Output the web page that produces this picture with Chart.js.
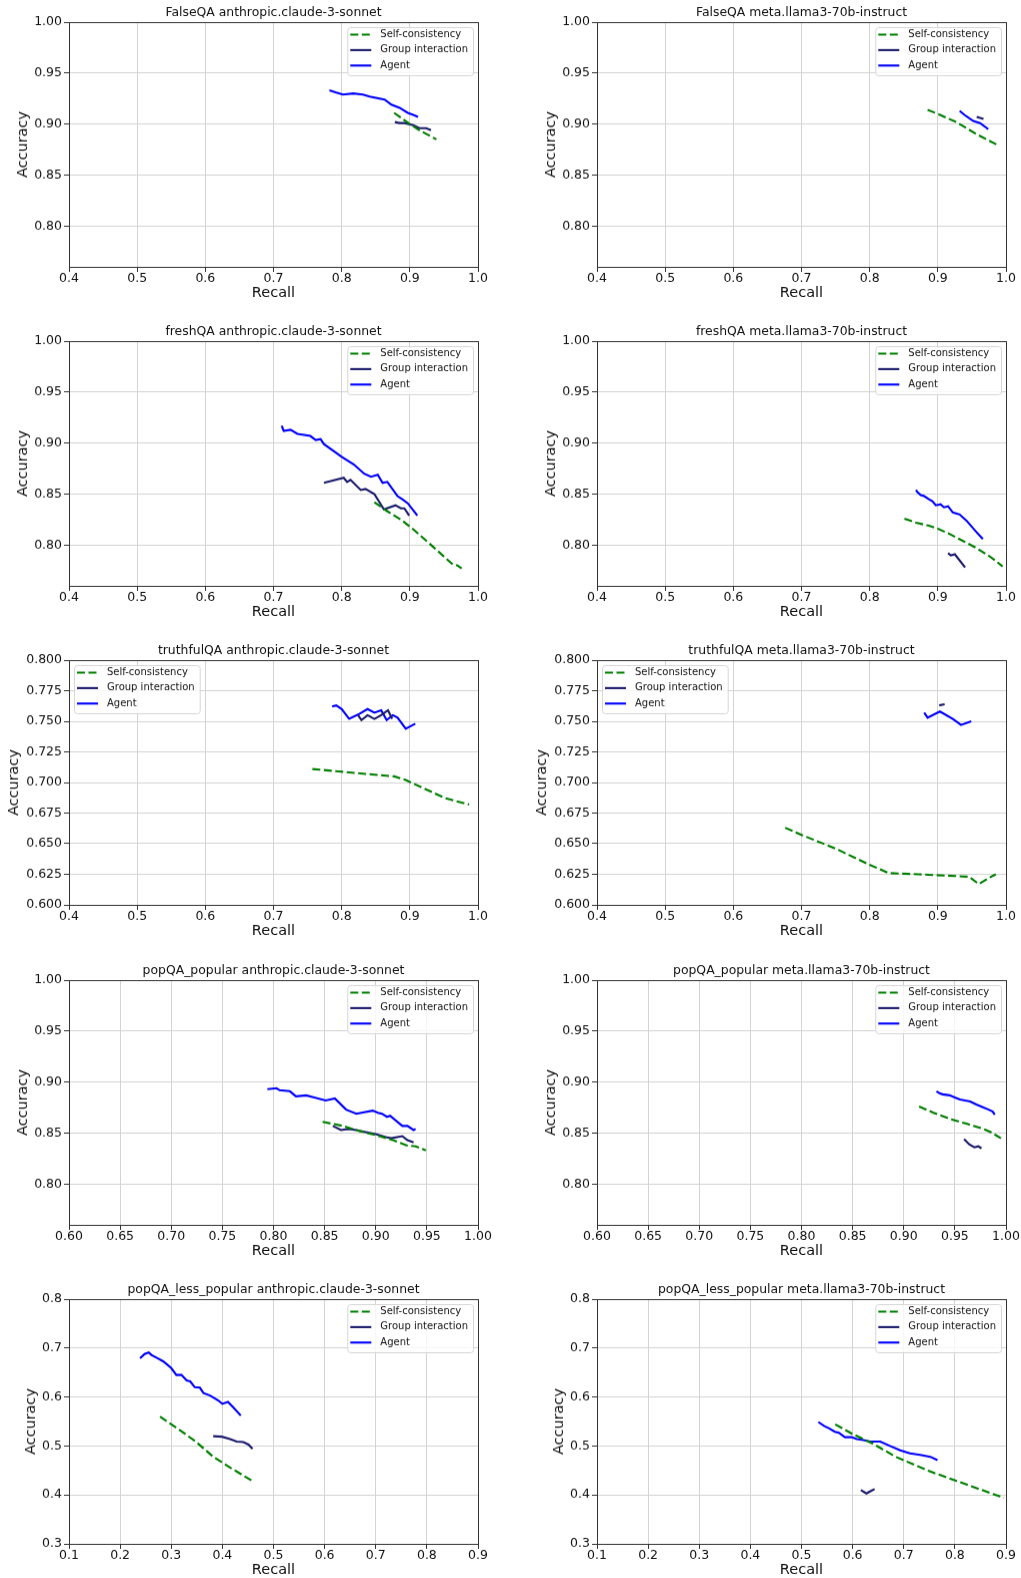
<!DOCTYPE html>
<html>
<head>
<meta charset="utf-8">
<script src="https://cdn.jsdelivr.net/npm/chart.js@4.4.1/dist/chart.umd.min.js"></script>
<style>
  body { margin: 0; background: #fff; }
  #wrap { position: relative; width: 1021px; height: 1578px; overflow: hidden; background: #fff; }
  #wrap canvas { position: absolute; }
</style>
</head>
<body>
<div id="wrap"></div>
<script>
// ---- data (recall, accuracy) ----
const falseqaClaudeSelf = [[0.877,0.911],[0.900,0.900],[0.914,0.894],[0.939,0.885]];
const falseqaClaudeGroup = [[0.878,0.902],[0.885,0.901],[0.892,0.901],[0.905,0.899],[0.914,0.896],[0.924,0.896],[0.931,0.894]];
const falseqaClaudeAgent = [[0.782,0.933],[0.792,0.931],[0.802,0.929],[0.817,0.930],[0.831,0.929],[0.841,0.927],[0.863,0.924],[0.873,0.919],[0.885,0.916],[0.897,0.911],[0.905,0.909],[0.912,0.907]];

const falseqaLlamaSelf = [[0.885,0.914],[0.900,0.910],[0.927,0.902],[0.957,0.890],[0.986,0.880]];
const falseqaLlamaGroup = [[0.957,0.907],[0.967,0.905]];
const falseqaLlamaAgent = [[0.932,0.913],[0.939,0.909],[0.952,0.903],[0.962,0.901],[0.974,0.895]];

const freshqaClaudeSelf = [[0.848,0.842],[0.865,0.834],[0.889,0.824],[0.904,0.816],[0.933,0.799],[0.963,0.781],[0.970,0.780],[0.976,0.777]];
const freshqaClaudeGroup = [[0.774,0.861],[0.803,0.866],[0.808,0.862],[0.813,0.864],[0.828,0.854],[0.835,0.855],[0.848,0.850],[0.862,0.835],[0.879,0.839],[0.887,0.836],[0.892,0.836],[0.899,0.829]];
const freshqaClaudeAgent = [[0.712,0.917],[0.715,0.912],[0.725,0.913],[0.735,0.909],[0.754,0.907],[0.762,0.903],[0.769,0.904],[0.774,0.899],[0.799,0.887],[0.818,0.879],[0.833,0.870],[0.843,0.867],[0.853,0.869],[0.860,0.861],[0.867,0.862],[0.882,0.848],[0.889,0.845],[0.897,0.841],[0.911,0.829]];

const freshqaLlamaSelf = [[0.851,0.826],[0.868,0.822],[0.887,0.819],[0.900,0.816],[0.917,0.811],[0.937,0.804],[0.957,0.797],[0.976,0.789],[0.986,0.784],[0.995,0.779]];
const freshqaLlamaGroup = [[0.915,0.792],[0.919,0.790],[0.925,0.791],[0.940,0.778]];
const freshqaLlamaAgent = [[0.868,0.854],[0.870,0.852],[0.875,0.849],[0.880,0.848],[0.887,0.845],[0.892,0.843],[0.897,0.839],[0.904,0.840],[0.909,0.837],[0.915,0.838],[0.922,0.832],[0.932,0.830],[0.942,0.824],[0.955,0.814],[0.966,0.806]];

const truthfulClaudeSelf = [[0.757,0.711],[0.796,0.709],[0.835,0.707],[0.877,0.705],[0.894,0.702],[0.933,0.692],[0.953,0.687],[0.987,0.682]];
const truthfulClaudeGroup = [[0.824,0.755],[0.829,0.751],[0.838,0.755],[0.848,0.752],[0.858,0.755],[0.868,0.759],[0.874,0.752]];
const truthfulClaudeAgent = [[0.786,0.762],[0.792,0.763],[0.800,0.760],[0.811,0.752],[0.826,0.756],[0.838,0.760],[0.848,0.757],[0.858,0.759],[0.866,0.751],[0.875,0.755],[0.882,0.753],[0.894,0.744],[0.908,0.748]];

const truthfulLlamaSelf = [[0.676,0.663],[0.701,0.657],[0.750,0.646],[0.799,0.633],[0.828,0.626],[0.872,0.625],[0.946,0.623],[0.960,0.617],[0.975,0.622],[0.985,0.625]];
const truthfulLlamaGroup = [[0.902,0.763],[0.910,0.764]];
const truthfulLlamaAgent = [[0.880,0.757],[0.885,0.753],[0.903,0.758],[0.922,0.752],[0.934,0.747],[0.949,0.750]];

const popularClaudeSelf = [[0.848,0.861],[0.868,0.857],[0.884,0.852],[0.900,0.848],[0.917,0.843],[0.930,0.838],[0.939,0.837],[0.949,0.833]];
const popularClaudeGroup = [[0.858,0.857],[0.866,0.853],[0.873,0.854],[0.881,0.853],[0.890,0.851],[0.900,0.849],[0.910,0.846],[0.915,0.845],[0.926,0.847],[0.931,0.843],[0.937,0.841]];
const popularClaudeAgent = [[0.794,0.893],[0.803,0.894],[0.806,0.892],[0.816,0.891],[0.822,0.886],[0.832,0.887],[0.840,0.885],[0.851,0.882],[0.860,0.884],[0.871,0.873],[0.881,0.869],[0.897,0.872],[0.902,0.870],[0.906,0.869],[0.911,0.866],[0.914,0.867],[0.926,0.857],[0.931,0.857],[0.937,0.853],[0.939,0.854]];

const popularLlamaSelf = [[0.915,0.876],[0.929,0.870],[0.945,0.864],[0.962,0.859],[0.978,0.854],[0.985,0.851],[0.995,0.845]];
const popularLlamaGroup = [[0.959,0.844],[0.964,0.839],[0.969,0.836],[0.973,0.837],[0.976,0.835]];
const popularLlamaAgent = [[0.932,0.891],[0.935,0.889],[0.938,0.888],[0.945,0.887],[0.950,0.885],[0.955,0.883],[0.960,0.882],[0.965,0.881],[0.971,0.878],[0.978,0.875],[0.983,0.873],[0.987,0.871],[0.989,0.868]];

const lessClaudeSelf = [[0.278,0.560],[0.316,0.533],[0.349,0.508],[0.382,0.478],[0.415,0.456],[0.461,0.427]];
const lessClaudeGroup = [[0.382,0.520],[0.399,0.519],[0.415,0.514],[0.428,0.509],[0.441,0.508],[0.451,0.503],[0.459,0.494]];
const lessClaudeAgent = [[0.239,0.679],[0.248,0.688],[0.256,0.691],[0.261,0.686],[0.274,0.679],[0.284,0.673],[0.290,0.668],[0.300,0.659],[0.310,0.645],[0.320,0.645],[0.330,0.634],[0.337,0.632],[0.346,0.620],[0.356,0.619],[0.363,0.608],[0.376,0.603],[0.392,0.593],[0.400,0.586],[0.411,0.590],[0.421,0.579],[0.436,0.562]];

const lessLlamaSelf = [[0.566,0.544],[0.599,0.525],[0.639,0.505],[0.684,0.478],[0.749,0.449],[0.802,0.429],[0.896,0.394]];
const lessLlamaGroup = [[0.616,0.410],[0.627,0.403],[0.634,0.407],[0.643,0.412]];
const lessLlamaAgent = [[0.533,0.549],[0.544,0.541],[0.554,0.536],[0.565,0.529],[0.573,0.527],[0.585,0.518],[0.598,0.518],[0.608,0.514],[0.621,0.512],[0.634,0.509],[0.654,0.509],[0.673,0.500],[0.693,0.491],[0.712,0.485],[0.732,0.482],[0.752,0.478],[0.766,0.471]];

// ---- tick labels ----
const recallTicks = [0.4, 0.5, 0.6, 0.7, 0.8, 0.9, 1.0];
const recallTicksPopular = [0.60, 0.65, 0.70, 0.75, 0.80, 0.85, 0.90, 0.95, 1.00];
const recallTicksLess = [0.1, 0.2, 0.3, 0.4, 0.5, 0.6, 0.7, 0.8, 0.9];
const accTicksHigh = [0.80, 0.85, 0.90, 0.95, 1.00];
const accTicksTruthful = [0.600, 0.625, 0.650, 0.675, 0.700, 0.725, 0.750, 0.775, 0.800];
const accTicksLess = [0.3, 0.4, 0.5, 0.6, 0.7, 0.8];

const seriesNames = ['Self-consistency', 'Group interaction', 'Agent'];
const FONT = 'DejaVu Sans';

const panels = [
  { title: 'FalseQA anthropic.claude-3-sonnet', row: 0, col: 0, data: [falseqaClaudeSelf, falseqaClaudeGroup, falseqaClaudeAgent], x: [0.4, 1.0, recallTicks, 1], y: [0.76, 1.0, accTicksHigh, 2], legend: 'right', yPad: 14.6 },
  { title: 'FalseQA meta.llama3-70b-instruct', row: 0, col: 1, data: [falseqaLlamaSelf, falseqaLlamaGroup, falseqaLlamaAgent], x: [0.4, 1.0, recallTicks, 1], y: [0.76, 1.0, accTicksHigh, 2], legend: 'right', yPad: 14.6 },
  { title: 'freshQA anthropic.claude-3-sonnet', row: 1, col: 0, data: [freshqaClaudeSelf, freshqaClaudeGroup, freshqaClaudeAgent], x: [0.4, 1.0, recallTicks, 1], y: [0.76, 1.0, accTicksHigh, 2], legend: 'right', yPad: 14.6 },
  { title: 'freshQA meta.llama3-70b-instruct', row: 1, col: 1, data: [freshqaLlamaSelf, freshqaLlamaGroup, freshqaLlamaAgent], x: [0.4, 1.0, recallTicks, 1], y: [0.76, 1.0, accTicksHigh, 2], legend: 'right', yPad: 14.6 },
  { title: 'truthfulQA anthropic.claude-3-sonnet', row: 2, col: 0, data: [truthfulClaudeSelf, truthfulClaudeGroup, truthfulClaudeAgent], x: [0.4, 1.0, recallTicks, 1], y: [0.6, 0.8, accTicksTruthful, 3], legend: 'left', yPad: 5.5 },
  { title: 'truthfulQA meta.llama3-70b-instruct', row: 2, col: 1, data: [truthfulLlamaSelf, truthfulLlamaGroup, truthfulLlamaAgent], x: [0.4, 1.0, recallTicks, 1], y: [0.6, 0.8, accTicksTruthful, 3], legend: 'left', yPad: 5.5 },
  { title: 'popQA_popular anthropic.claude-3-sonnet', row: 3, col: 0, data: [popularClaudeSelf, popularClaudeGroup, popularClaudeAgent], x: [0.6, 1.0, recallTicksPopular, 2], y: [0.76, 1.0, accTicksHigh, 2], legend: 'right', yPad: 14.6 },
  { title: 'popQA_popular meta.llama3-70b-instruct', row: 3, col: 1, data: [popularLlamaSelf, popularLlamaGroup, popularLlamaAgent], x: [0.6, 1.0, recallTicksPopular, 2], y: [0.76, 1.0, accTicksHigh, 2], legend: 'right', yPad: 14.6 },
  { title: 'popQA_less_popular anthropic.claude-3-sonnet', row: 4, col: 0, data: [lessClaudeSelf, lessClaudeGroup, lessClaudeAgent], x: [0.1, 0.9, recallTicksLess, 1], y: [0.3, 0.8, accTicksLess, 1], legend: 'right', yPad: 22.5 },
  { title: 'popQA_less_popular meta.llama3-70b-instruct', row: 4, col: 1, data: [lessLlamaSelf, lessLlamaGroup, lessLlamaAgent], x: [0.1, 0.9, recallTicksLess, 1], y: [0.3, 0.8, accTicksLess, 1], legend: 'right', yPad: 22.5 }
];

const rowTops = [22, 341, 660, 980, 1299];
const colLefts = [0, 528];

// frame around the plot area (matplotlib spines) + title centred on the plot area
const framePlugin = {
  id: 'frame',
  afterDatasetsDraw(chart, args, opts) {
    const a = chart.chartArea, ctx = chart.ctx;
    ctx.save();
    ctx.strokeStyle = '#333';
    ctx.lineWidth = 1;
    ctx.strokeRect(Math.round(a.left) + 0.5, Math.round(a.top) + 0.5, Math.round(a.right - a.left), Math.round(a.bottom - a.top));
    ctx.font = '12.4px "' + FONT + '"';
    ctx.fillStyle = '#111';
    ctx.textAlign = 'center';
    ctx.textBaseline = 'middle';
    ctx.fillText(opts.text, (a.left + a.right) / 2, a.top - 9.5);
    ctx.restore();
  }
};

// legend drawn in a box inside the plot area
const boxLegend = {
  id: 'boxLegend',
  afterDraw(chart, args, opts) {
    const a = chart.chartArea, ctx = chart.ctx;
    ctx.save();
    ctx.font = '10px "' + FONT + '"';
    let tw = 0;
    chart.data.datasets.forEach(ds => { tw = Math.max(tw, ctx.measureText(ds.label).width); });
    const w = 33 + tw + 5, h = 48;
    const x0 = opts.side === 'left' ? a.left + 5 : a.right - 5 - w;
    const y0 = a.top + 5;
    ctx.beginPath();
    ctx.roundRect(x0 + 0.5, y0 + 0.5, w, h, 3);
    ctx.fillStyle = 'rgba(255,255,255,0.8)';
    ctx.fill();
    ctx.strokeStyle = '#d6d6d6';
    ctx.lineWidth = 1;
    ctx.stroke();
    chart.data.datasets.forEach((ds, i) => {
      const yy = y0 + 7.5 + i * 15.4;
      ctx.beginPath();
      ctx.setLineDash(ds.borderDash || []);
      ctx.strokeStyle = ds.borderColor;
      ctx.lineWidth = ds.borderWidth;
      ctx.moveTo(x0 + 3, yy);
      ctx.lineTo(x0 + 24, yy);
      ctx.stroke();
      ctx.setLineDash([]);
      ctx.fillStyle = '#111';
      ctx.textBaseline = 'middle';
      ctx.fillText(ds.label, x0 + 33, yy);
    });
    ctx.restore();
  }
};

const colors = ['#008000', '#1c1c6e', '#0000ff'];
const dashes = [[8, 3.5], [], []];

const wrap = document.getElementById('wrap');
panels.forEach((p, idx) => {
  const cv = document.createElement('canvas');
  const h = 22 + 244.5 + 45;
  cv.width = 500;
  cv.height = h;
  cv.style.left = colLefts[p.col] + 'px';
  cv.style.top = (rowTops[p.row] - 22) + 'px';
  cv.style.width = '500px';
  cv.style.height = h + 'px';
  wrap.appendChild(cv);

  const datasets = p.data.map((pts, i) => ({
    label: seriesNames[i],
    data: pts.map(d => ({ x: d[0], y: d[1] })),
    showLine: true,
    borderColor: colors[i],
    borderDash: dashes[i],
    borderWidth: 2.1,
    pointRadius: 0,
    tension: 0
  }));

  new Chart(cv, {
    type: 'scatter',
    data: { datasets: datasets },
    options: {
      responsive: false,
      animation: false,
      layout: { padding: { top: 22, left: 0, right: 22, bottom: 0 } },
      plugins: {
        legend: { display: false },
        tooltip: { enabled: false },
        title: { display: false },
        frame: { text: p.title },
        boxLegend: { side: p.legend }
      },
      scales: {
        x: {
          type: 'linear', min: p.x[0], max: p.x[1],
          afterBuildTicks: s => { s.ticks = p.x[2].map(v => ({ value: v })); },
          afterFit: s => { s.height = 45; },
          ticks: { autoSkip: false, maxRotation: 0, padding: 0, color: '#111', font: { family: FONT, size: 12.5, lineHeight: 1 }, callback: v => Number(v).toFixed(p.x[3]) },
          grid: { color: '#d3d3d3', lineWidth: 1, tickColor: '#333', tickLength: 5 },
          border: { display: false },
          title: { display: true, text: 'Recall', color: '#111', font: { family: FONT, size: 14.5 }, padding: { top: 0, bottom: 9.8 } }
        },
        y: {
          type: 'linear', min: p.y[0], max: p.y[1],
          afterBuildTicks: s => { s.ticks = p.y[2].map(v => ({ value: v })); },
          afterFit: s => { s.width = 69; },
          ticks: { autoSkip: false, padding: 2, color: '#111', font: { family: FONT, size: 12.5 }, callback: v => Number(v).toFixed(p.y[3]) },
          grid: { color: '#d3d3d3', lineWidth: 1, tickColor: '#333', tickLength: 5 },
          border: { display: false },
          title: { display: true, text: 'Accuracy', color: '#111', font: { family: FONT, size: 14.5 }, padding: { top: p.yPad, bottom: 0 } }
        }
      }
    },
    plugins: [framePlugin, boxLegend]
  });
});
</script>
</body>
</html>
